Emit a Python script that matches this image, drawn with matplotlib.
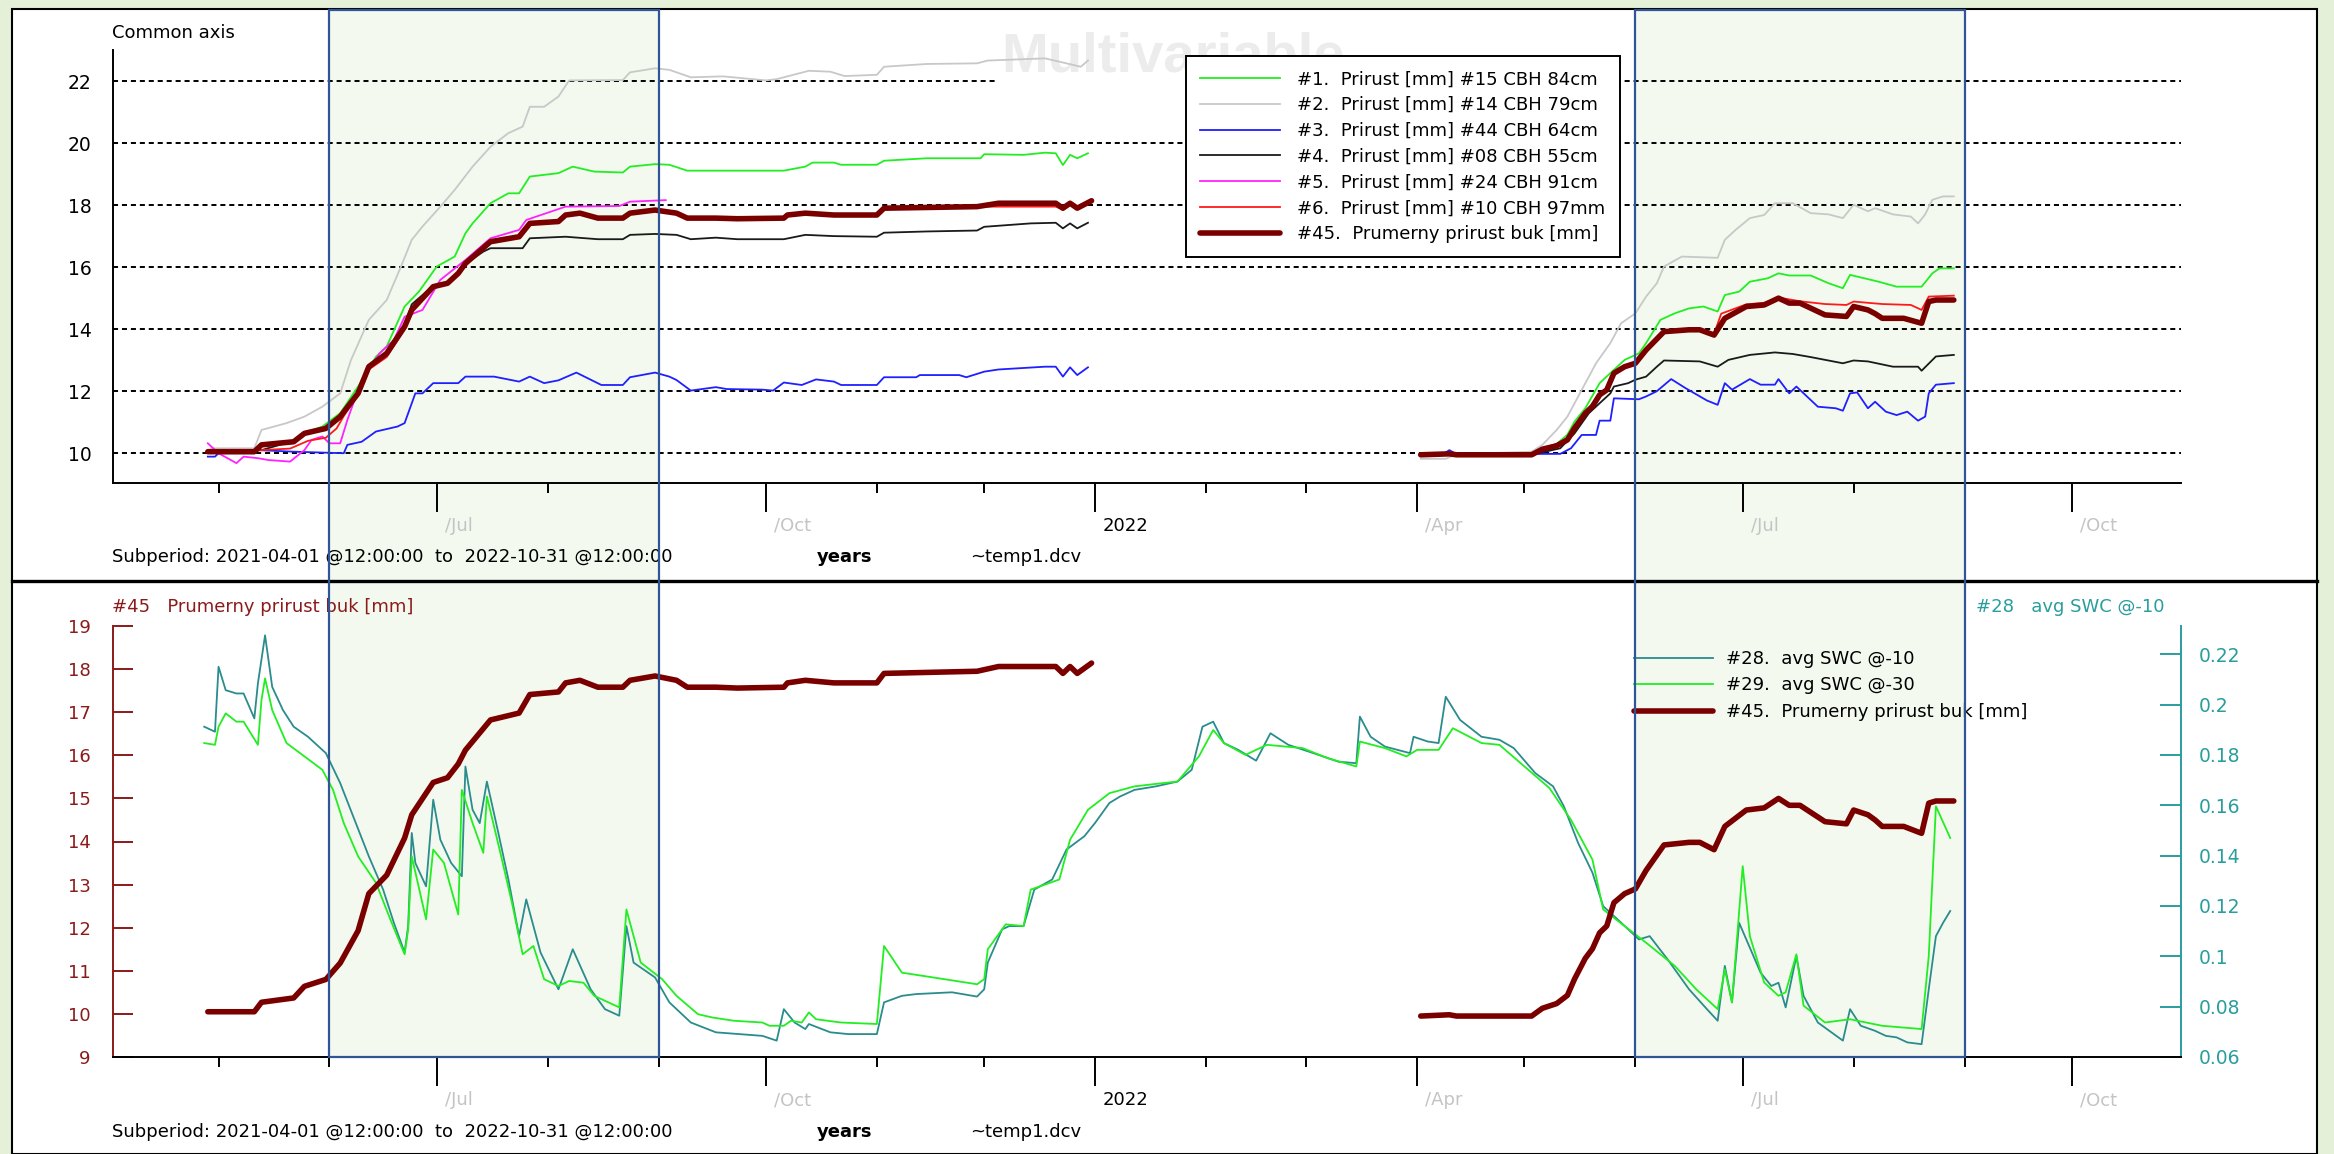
import numpy as np
import matplotlib
matplotlib.use('Agg')
import matplotlib.pyplot as plt
from matplotlib.patches import Rectangle
from matplotlib.lines import Line2D
import matplotlib.transforms as mtransforms

plt.rcParams['font.family'] = ['DejaVu Sans']

W, H = 2334, 1154
START = np.datetime64('2021-04-01')
END_DAY = 578.5  # 2022-10-31 @12:00

# ---------------- data (x = days since 2021-04-01) ----------------
# #45 Prumerny prirust buk [mm]
br21_d = [27, 40, 42, 51, 54, 60, 64, 69, 72, 77, 82, 84, 90, 94, 97, 99, 106, 114, 117, 125, 127, 131, 136, 143,
          145, 152, 158, 161, 169, 175, 188, 189, 194, 202, 214, 216, 242, 248, 264, 266, 268, 270, 274]
br21_v = [10.05, 10.05, 10.27, 10.37, 10.64, 10.8, 11.18, 11.93, 12.79, 13.22, 14.08, 14.62, 15.37, 15.48, 15.8,
          16.12, 16.82, 16.98, 17.41, 17.47, 17.68, 17.74, 17.58, 17.58, 17.74, 17.84, 17.74, 17.58, 17.58, 17.56,
          17.58, 17.68, 17.74, 17.68, 17.68, 17.9, 17.95, 18.06, 18.06, 17.9, 18.06, 17.9, 18.14]
br22_d = [366, 374, 376, 397, 400, 404, 407, 409, 412, 414, 416, 418, 420, 423, 426, 429, 434, 441, 444, 448, 451,
          457, 462, 466, 469, 472, 479, 485, 487, 491, 493, 495, 501, 506, 508, 510, 515]
br22_v = [9.95, 9.98, 9.95, 9.95, 10.13, 10.24, 10.43, 10.81, 11.29, 11.51, 11.88, 12.04, 12.58, 12.79, 12.9, 13.33,
          13.92, 13.98, 13.98, 13.81, 14.35, 14.73, 14.78, 15.0, 14.84, 14.84, 14.46, 14.41, 14.73, 14.62, 14.5,
          14.35, 14.35, 14.19, 14.89, 14.94, 14.94]

# #1 Prirust #15 CBH 84cm
g21_d = [27, 40, 42, 51, 54, 59, 64, 69, 74, 77, 82, 86, 91, 96, 99, 101, 106, 111, 114, 117, 125, 129, 135, 143,
         145, 152, 156, 161, 188, 194, 196, 202, 204, 214, 216, 228, 243, 244, 255, 261, 264, 266, 268, 270, 273]
g21_v = [10.05, 10.05, 10.25, 10.35, 10.65, 10.86, 11.29, 12.15, 13.11, 13.44, 14.73, 15.21, 16.02, 16.34, 17.09,
         17.41, 18.06, 18.38, 18.38, 18.92, 19.03, 19.24, 19.08, 19.05, 19.24, 19.32, 19.3, 19.11, 19.11, 19.24,
         19.37, 19.37, 19.3, 19.3, 19.43, 19.51, 19.51, 19.64, 19.62, 19.69, 19.67, 19.29, 19.62, 19.51, 19.67]
g22_d = [366, 397, 400, 404, 407, 409, 412, 416, 420, 423, 427, 429, 433, 437, 441, 445, 449, 451, 455, 458, 463,
         466, 469, 475, 480, 484, 486, 490, 494, 499, 506, 509, 511, 515]
g22_v = [9.98, 9.98, 10.15, 10.3, 10.6, 11.02, 11.45, 12.26, 12.69, 13.01, 13.22, 13.55, 14.3, 14.51, 14.67, 14.73,
         14.57, 15.1, 15.21, 15.53, 15.64, 15.8, 15.73, 15.73, 15.48, 15.32, 15.75, 15.64, 15.53, 15.37, 15.37,
         15.8, 15.96, 15.96]

# #2 Prirust #14 CBH 79cm
gr21_d = [28, 40, 42, 49, 54, 59, 64, 67, 72, 77, 81, 84, 87, 92, 96, 101, 106, 111, 115, 117, 121, 125, 128, 143,
          145, 152, 156, 162, 171, 183, 186, 195, 201, 205, 214, 216, 228, 242, 245, 261, 267, 271, 273]
gr21_v = [10.16, 10.16, 10.75, 10.97, 11.18, 11.5, 11.93, 13.0, 14.3, 14.94, 16.02, 16.88, 17.31, 17.95, 18.49,
          19.24, 19.88, 20.32, 20.53, 21.17, 21.17, 21.5, 22.02, 22.03, 22.28, 22.41, 22.36, 22.12, 22.15, 22.02,
          22.06, 22.33, 22.3, 22.16, 22.2, 22.46, 22.55, 22.57, 22.66, 22.73, 22.57, 22.46, 22.66]
gr22_d = [366, 373, 376, 397, 400, 404, 407, 411, 415, 419, 422, 426, 429, 432, 434, 439, 449, 451, 454, 458, 462,
          465, 470, 475, 480, 484, 487, 491, 493, 498, 503, 505, 507, 509, 512, 515]
gr22_v = [9.82, 9.82, 9.97, 10.05, 10.27, 10.75, 11.18, 12.04, 12.9, 13.55, 14.19, 14.51, 15.05, 15.48, 16.02,
          16.34, 16.3, 16.88, 17.2, 17.58, 17.68, 18.06, 18.06, 17.74, 17.7, 17.58, 18.01, 17.8, 17.9, 17.7, 17.63,
          17.41, 17.7, 18.17, 18.28, 18.28]

# #3 Prirust #44 CBH 64cm
b21_d = [27, 29, 30, 40, 41, 51, 65, 66, 70, 74, 80, 82, 85, 87, 90, 97, 99, 107, 114, 117, 121, 125, 130, 137, 143,
         145, 152, 156, 158, 162, 169, 172, 182, 185, 188, 193, 197, 202, 204, 214, 216, 225, 226, 237, 239, 244,
         248, 261, 264, 266, 268, 270, 273]
b21_v = [9.89, 9.89, 10.0, 10.0, 10.1, 10.05, 10.0, 10.27, 10.37, 10.7, 10.86, 10.97, 11.93, 11.93, 12.26, 12.26,
         12.47, 12.47, 12.31, 12.47, 12.26, 12.35, 12.6, 12.2, 12.2, 12.45, 12.6, 12.47, 12.36, 12.02, 12.13, 12.07,
         12.05, 12.02, 12.28, 12.2, 12.38, 12.31, 12.2, 12.2, 12.45, 12.45, 12.52, 12.52, 12.45, 12.63, 12.7, 12.79,
         12.79, 12.47, 12.77, 12.52, 12.77]
b22_d = [366, 372, 374, 376, 405, 408, 411, 415, 416, 419, 420, 427, 429, 432, 436, 440, 446, 449, 451, 453, 458,
         461, 465, 466, 469, 471, 477, 482, 484, 486, 488, 491, 493, 496, 499, 502, 505, 507, 508, 510, 515]
b22_v = [9.95, 9.95, 10.1, 9.97, 9.98, 10.16, 10.59, 10.59, 11.05, 11.05, 11.77, 11.74, 11.83, 12.0, 12.39, 12.1,
         11.7, 11.56, 12.26, 12.05, 12.39, 12.21, 12.21, 12.39, 11.93, 12.15, 11.5, 11.45, 11.37, 11.93, 11.96,
         11.45, 11.66, 11.34, 11.23, 11.34, 11.05, 11.18, 11.93, 12.21, 12.26]

# #4 Prirust #08 CBH 55cm
k21_d = [27, 42, 51, 54, 60, 64, 69, 72, 77, 82, 84, 90, 94, 97, 99, 104, 106, 115, 117, 127, 136, 143, 145, 152,
         158, 162, 169, 175, 188, 194, 202, 214, 216, 228, 242, 244, 257, 264, 266, 268, 270, 273]
k21_v = [10.05, 10.1, 10.4, 10.65, 10.75, 11.2, 11.9, 12.75, 13.2, 14.1, 14.8, 15.4, 15.45, 15.8, 16.1, 16.5,
         16.61, 16.61, 16.93, 16.98, 16.9, 16.9, 17.04, 17.07, 17.04, 16.9, 16.95, 16.9, 16.9, 17.04, 17.0, 16.98,
         17.11, 17.15, 17.18, 17.3, 17.41, 17.43, 17.25, 17.41, 17.25, 17.43]
k22_d = [366, 397, 405, 409, 413, 416, 419, 420, 424, 426, 429, 432, 434, 444, 449, 452, 458, 465, 470, 475, 484,
         487, 491, 498, 505, 506, 510, 515]
k22_v = [9.95, 9.95, 10.16, 10.64, 11.29, 11.61, 11.93, 12.15, 12.26, 12.37, 12.47, 12.79, 12.99, 12.96, 12.79,
         13.01, 13.17, 13.25, 13.2, 13.1, 12.9, 12.99, 12.96, 12.79, 12.79, 12.66, 13.12, 13.17]

# #5 Prirust #24 CBH 91cm
m21_d = [27, 30, 35, 37, 41, 44, 50, 54, 56, 59, 61, 64, 66, 70, 75, 79, 82, 87, 92, 99, 106, 114, 116, 127, 142,
         145, 155]
m21_v = [10.32, 10.0, 9.68, 9.89, 9.84, 9.78, 9.73, 10.1, 10.43, 10.54, 10.32, 10.32, 11.07, 12.36, 13.22, 13.65,
         14.4, 14.62, 15.59, 16.23, 16.93, 17.2, 17.52, 17.95, 17.97, 18.11, 18.16]

# #6 Prirust #10 CBH 97mm
r21_d = [27, 42, 50, 55, 60, 63, 65, 69, 72, 77, 82, 84, 90, 94, 97, 99, 105, 114, 117, 125, 127, 131, 136, 143,
         145, 152, 158, 161, 169, 175, 188, 190, 194, 202, 214, 216, 242, 248, 264, 266, 268, 270, 274]
r21_v = [10.05, 10.1, 10.15, 10.4, 10.5, 10.8, 11.2, 11.9, 12.7, 13.1, 14.0, 14.6, 15.35, 15.5, 15.8, 16.1, 16.8,
         17.0, 17.4, 17.45, 17.7, 17.75, 17.6, 17.6, 17.75, 17.85, 17.75, 17.6, 17.55, 17.6, 17.6, 17.7, 17.75,
         17.7, 17.7, 17.9, 17.95, 17.95, 17.95, 17.85, 18.0, 17.9, 18.1]
r22_d = [366, 397, 400, 404, 407, 409, 412, 416, 418, 420, 423, 426, 429, 434, 441, 444, 448, 450, 457, 462, 466,
         472, 479, 485, 487, 495, 503, 506, 508, 515]
r22_v = [9.95, 9.95, 10.15, 10.3, 10.5, 10.85, 11.3, 11.9, 12.1, 12.6, 12.8, 12.9, 13.35, 13.95, 14.0, 14.0, 13.85,
         14.5, 14.8, 14.85, 15.02, 14.9, 14.81, 14.78, 14.89, 14.81, 14.78, 14.62, 15.05, 15.08]

# #28 avg SWC @-10
sw10_d = [26, 29, 30, 32, 35, 37, 40, 41, 43, 45, 48, 51, 55, 60, 64, 68, 72, 76, 79, 82, 83, 84, 85, 88, 90, 92,
          95, 98, 99, 101, 103, 105, 108, 111, 114, 116, 120, 125, 129, 134, 138, 142, 144, 146, 152, 156, 162, 169,
          182, 186, 188, 191, 194, 195, 201, 206, 214, 216, 221, 225, 235, 242, 244, 245, 249, 251, 255, 258, 263,
          267, 272, 275, 279, 282, 286, 292, 298, 302, 305, 308, 311, 315, 320, 324, 329, 336, 343, 348, 349, 352,
          356, 363, 364, 368, 371, 373, 377, 383, 388, 392, 398, 403, 406, 410, 414, 417, 421, 427, 430, 435, 441,
          446, 449, 451, 453, 455, 457, 461, 464, 466, 468, 471, 473, 477, 484, 486, 489, 493, 496, 499, 502, 506,
          508, 510, 512, 514]
sw10_v = [0.1912, 0.1892, 0.215, 0.2057, 0.2044, 0.2044, 0.1945, 0.2084, 0.2275, 0.207, 0.1978, 0.1912, 0.1872,
          0.1807, 0.1688, 0.1542, 0.1397, 0.1265, 0.1133, 0.1015, 0.112, 0.149, 0.1371, 0.1278, 0.1622, 0.1463,
          0.1371, 0.1318, 0.1754, 0.1582, 0.1529, 0.1694, 0.1503, 0.1306, 0.108, 0.1226, 0.1015, 0.0869, 0.1028,
          0.0869, 0.079, 0.0764, 0.112, 0.0975, 0.0916, 0.0817, 0.0737, 0.0698, 0.0684, 0.0665, 0.079, 0.0737,
          0.0711, 0.0731, 0.0698, 0.0691, 0.0691, 0.0817, 0.0843, 0.085, 0.0857, 0.084, 0.0869, 0.0975, 0.1107,
          0.112, 0.112, 0.1265, 0.1305, 0.1424, 0.1477, 0.153, 0.1609, 0.1635, 0.1661, 0.1675, 0.1694, 0.1741,
          0.1912, 0.1932, 0.1847, 0.182, 0.1777, 0.1886, 0.184, 0.1807, 0.1773, 0.1767, 0.1952, 0.1872, 0.1833,
          0.1807, 0.1872, 0.1853, 0.1847, 0.2031, 0.1939, 0.1872, 0.186, 0.1827, 0.1728, 0.1675, 0.1596, 0.145,
          0.1332, 0.1199, 0.1147, 0.1067, 0.108, 0.0988, 0.0869, 0.079, 0.0744, 0.0962, 0.0817, 0.1133, 0.1067,
          0.0935, 0.0882, 0.0895, 0.0797, 0.1001, 0.0843, 0.0737, 0.0665, 0.079, 0.0724, 0.0704, 0.0684, 0.0678,
          0.0658, 0.0651, 0.0869, 0.108, 0.1133, 0.118]

# #29 avg SWC @-30
sw30_d = [26, 29, 30, 32, 35, 37, 41, 42, 43, 45, 49, 54, 59, 62, 65, 69, 74, 78, 82, 83, 84, 88, 90, 93, 97, 98,
          101, 104, 105, 109, 112, 115, 118, 121, 125, 128, 132, 135, 142, 144, 148, 154, 158, 164, 168, 174, 182,
          184, 188, 190, 193, 195, 197, 204, 214, 216, 221, 227, 242, 244, 245, 250, 255, 257, 265, 268, 273, 279,
          286, 294, 298, 304, 308, 311, 317, 323, 333, 340, 348, 349, 356, 362, 365, 371, 375, 383, 388, 395, 402,
          408, 414, 417, 423, 429, 437, 443, 449, 451, 453, 456, 458, 462, 466, 468, 471, 473, 479, 486, 495, 506,
          508, 510, 514]
sw30_v = [0.1847, 0.184, 0.1912, 0.1965, 0.1932, 0.1932, 0.184, 0.2018, 0.2104, 0.1978, 0.1847, 0.1794, 0.1741,
          0.1661, 0.1529, 0.1397, 0.1292, 0.1147, 0.1008, 0.1107, 0.1397, 0.1147, 0.1424, 0.1371, 0.1166, 0.1661,
          0.1529, 0.1411, 0.1635, 0.1397, 0.1213, 0.1008, 0.1041, 0.0909, 0.0882, 0.0902, 0.0895, 0.0843, 0.0797,
          0.1186, 0.0975, 0.0909, 0.0843, 0.077, 0.0757, 0.0744, 0.0737, 0.0724, 0.0724, 0.0744, 0.0737, 0.0777,
          0.075, 0.0737, 0.0731, 0.1041, 0.0935, 0.0922, 0.0889, 0.0909, 0.1028, 0.1127, 0.112, 0.1265, 0.1305,
          0.1463, 0.1582, 0.1648, 0.1675, 0.1688, 0.1694, 0.1794, 0.1899, 0.1847, 0.18, 0.184, 0.1827, 0.1787,
          0.1754, 0.1853, 0.1827, 0.1794, 0.182, 0.182, 0.1906, 0.1847, 0.184, 0.1754, 0.1668, 0.1542, 0.1384,
          0.1186, 0.112, 0.1054, 0.0962, 0.0869, 0.079, 0.0948, 0.0817, 0.1358, 0.108, 0.0896, 0.0843, 0.0857,
          0.1008, 0.0804, 0.0737, 0.075, 0.0724, 0.0711, 0.1001, 0.1596, 0.147]

top_labels = ['#1.  Prirust [mm] #15 CBH 84cm', '#2.  Prirust [mm] #14 CBH 79cm', '#3.  Prirust [mm] #44 CBH 64cm',
              '#4.  Prirust [mm] #08 CBH 55cm', '#5.  Prirust [mm] #24 CBH 91cm', '#6.  Prirust [mm] #10 CBH 97mm',
              '#45.  Prumerny prirust buk [mm]']
bot_labels = ['#28.  avg SWC @-10', '#29.  avg SWC @-30', '#45.  Prumerny prirust buk [mm]']
shade_periods = [('2021-06-01', '2021-09-01'), ('2022-06-01', '2022-09-01')]

# colours
C_GREEN = '#22ee22'
C_GRAY = '#c8c8c8'
C_BLUE = '#1f1fff'
C_BLACK = '#1a1a1a'
C_MAG = '#ff22ff'
C_RED = '#ff1a1a'
C_BROWN = '#7a0000'
C_TEAL = '#2a8c8c'
C_DRED = '#8b1a1a'
C_TEALTXT = '#2a9d9d'
BG = '#e4f1d8'


def day(s):
    return int((np.datetime64(s) - START).astype(int))


def fx(px):
    return px / W


def fy(py):
    return 1 - py / H


fig = plt.figure(figsize=(W / 100, H / 100), dpi=100, facecolor=BG)

# white panel + separator
fig.add_artist(Rectangle((fx(12), 0), fx(2317 - 12), fy(9), transform=fig.transFigure,
                         facecolor='white', edgecolor='black', lw=1.5, zorder=-3))
fig.add_artist(Line2D([fx(12), fx(2317)], [fy(581), fy(581)], transform=fig.transFigure,
                      color='black', lw=2.4, zorder=4))

# month ticks
months = np.arange(np.datetime64('2021-05'), np.datetime64('2022-11'), dtype='datetime64[M]')
mdays = (months.astype('datetime64[D]') - START).astype(int)
mnum = months.astype(int) % 12 + 1
major_d = [d for d, m in zip(mdays, mnum) if m in (1, 4, 7, 10)]
major_lab = []
for d, m in zip(mdays, mnum):
    if m in (1, 4, 7, 10):
        major_lab.append({1: '2022', 4: '/Apr', 7: '/Jul', 10: '/Oct'}[m])
minor_d = [d for d, m in zip(mdays, mnum) if m not in (1, 4, 7, 10)]

lab_shift = mtransforms.ScaledTranslation(8 / 100, 0, fig.dpi_scale_trans)


def time_axis(ax):
    ax.set_xlim(0.5, END_DAY)
    ax.set_xticks(major_d)
    ax.set_xticklabels(major_lab)
    ax.set_xticks(minor_d, minor=True)
    ax.tick_params(axis='x', which='major', direction='out', length=21, width=1.4, pad=3.5, labelsize=13)
    ax.tick_params(axis='x', which='minor', direction='out', length=7, width=1.4)
    for lab in ax.get_xticklabels():
        lab.set_ha('left')
        lab.set_transform(lab.get_transform() + lab_shift)
        lab.set_color('black' if lab.get_text() == '2022' else '#c4c4c4')
    ax.spines['bottom'].set_linewidth(1.4)
    ax.spines['top'].set_visible(False)


# ---------------- top panel ----------------
ax1 = fig.add_axes([fx(113), fy(482.7), fx(2181 - 113), (482.7 - 50) / H])
ax1.set_facecolor('none')
ax1.set_ylim(9.05, 23.0)
time_axis(ax1)
ax1.spines['right'].set_visible(False)
ax1.spines['left'].set_linewidth(1.4)
ax1.set_yticks(np.arange(10, 23, 2))
ax1.tick_params(axis='y', length=0, pad=15.5, labelsize=13.5)
for v in np.arange(10, 23, 2):
    ax1.axhline(v, color='black', lw=1.4, ls=(0, (2.6, 2.0)), zorder=1)

ax1.text(fx(1001), fy(72), 'Multivariable', transform=fig.transFigure, family='Liberation Sans',
         weight='bold', fontsize=40.5, color='#ececec', va='baseline', ha='left', zorder=1.5,
         bbox=dict(boxstyle='square,pad=0.1', facecolor='white', edgecolor='none'))

lw_thin = 1.3
series_top = [(g21_d, g21_v, g22_d, g22_v, C_GREEN), (gr21_d, gr21_v, gr22_d, gr22_v, C_GRAY),
              (b21_d, b21_v, b22_d, b22_v, C_BLUE), (k21_d, k21_v, k22_d, k22_v, C_BLACK),
              (m21_d, m21_v, None, None, C_MAG), (r21_d, r21_v, r22_d, r22_v, C_RED)]
handles_top = []
for (d1, v1, d2, v2, c), lab in zip(series_top, top_labels):
    h, = ax1.plot(d1, v1, color=c, lw=lw_thin, label=lab, zorder=2)
    if d2 is not None:
        ax1.plot(d2, v2, color=c, lw=lw_thin, zorder=2)
    handles_top.append(h)
h, = ax1.plot(br21_d, br21_v, color=C_BROWN, lw=4.0, label=top_labels[-1], zorder=3,
              solid_capstyle='round', solid_joinstyle='round')
ax1.plot(br22_d, br22_v, color=C_BROWN, lw=4.0, zorder=3, solid_capstyle='round', solid_joinstyle='round')
handles_top.append(h)

leg1 = ax1.legend(handles=handles_top, loc='upper left', bbox_to_anchor=(fx(1186), fy(56)),
                  bbox_transform=fig.transFigure, borderaxespad=0, fontsize=13, handlelength=4.4,
                  handletextpad=0.95, borderpad=0.8, labelspacing=0.43, fancybox=False,
                  framealpha=1, edgecolor='black', facecolor='white')
leg1.get_frame().set_linewidth(1.4)
leg1.set_zorder(5)

fig.text(fx(112), fy(33), 'Common axis', fontsize=13, va='center', ha='left')

# ---------------- bottom panel ----------------
ax2 = fig.add_axes([fx(113), fy(1057), fx(2181 - 113), (1057 - 626) / H])
ax3 = ax2.twinx()
ax2.set_zorder(ax3.get_zorder() + 1)
ax2.set_facecolor('none')
ax3.set_facecolor('none')
time_axis(ax2)
ax3.spines['top'].set_visible(False)
ax3.spines['bottom'].set_visible(False)
ax3.spines['left'].set_visible(False)
ax2.spines['right'].set_visible(False)

ax2.set_ylim(9, 19)
ax2.set_yticks(np.arange(9, 20, 1))
ax2.spines['left'].set_color(C_DRED)
ax2.spines['left'].set_linewidth(1.4)
ax2.tick_params(axis='y', direction='in', length=14.4, width=1.4, color=C_DRED, labelcolor=C_DRED,
                pad=16, labelsize=13)

ax3.set_ylim(0.06, 0.2312)
ax3.set_yticks(np.arange(0.06, 0.2201, 0.02))
ax3.set_yticklabels(['%g' % round(v, 2) for v in np.arange(0.06, 0.2201, 0.02)])
ax3.spines['right'].set_color(C_TEALTXT)
ax3.spines['right'].set_linewidth(1.4)
ax3.tick_params(axis='y', direction='in', length=15, width=1.4, color=C_TEALTXT, labelcolor=C_TEALTXT,
                pad=13, labelsize=13.5)

h28, = ax3.plot(sw10_d, sw10_v, color=C_TEAL, lw=lw_thin)
h29, = ax3.plot(sw30_d, sw30_v, color=C_GREEN, lw=lw_thin)
h45, = ax2.plot(br21_d, br21_v, color=C_BROWN, lw=4.0, solid_capstyle='round', solid_joinstyle='round')
ax2.plot(br22_d, br22_v, color=C_BROWN, lw=4.0, solid_capstyle='round', solid_joinstyle='round')

leg2 = fig.legend([h28, h29, h45], bot_labels, loc='upper left', bbox_to_anchor=(fx(1621), fy(637)),
                  bbox_transform=fig.transFigure, borderaxespad=0, fontsize=13, handlelength=4.4,
                  handletextpad=0.7, borderpad=0.72, labelspacing=0.47, fancybox=False,
                  framealpha=0, edgecolor='black')
leg2.get_frame().set_facecolor('none')
leg2.get_frame().set_edgecolor('black')
leg2.get_frame().set_linewidth(1.4)
leg2.set_zorder(5)

fig.text(fx(112), fy(607), '#45   Prumerny prirust buk [mm]', color=C_DRED, fontsize=13, va='center')
fig.text(fx(1976), fy(607), '#28   avg SWC @-10', color=C_TEALTXT, fontsize=13, va='center')

# subperiod lines
for yy in (557, 1132):
    fig.text(fx(112), fy(yy), 'Subperiod: 2021-04-01 @12:00:00  to  2022-10-31 @12:00:00', fontsize=13,
             va='center')
    fig.text(fx(817), fy(yy), 'years', fontsize=13, weight='bold', va='center')
    fig.text(fx(970), fy(yy), '~temp1.dcv', fontsize=13, va='center')

# shaded periods spanning both panels
blend = mtransforms.blended_transform_factory(ax1.transData, fig.transFigure)
for a, b in shade_periods:
    x0, x1 = day(a), day(b)
    fig.add_artist(Rectangle((x0, fy(1057)), x1 - x0, fy(10) - fy(1057), transform=blend,
                             facecolor='#f3f9ef', edgecolor='none', zorder=-1))
    fig.add_artist(Rectangle((x0, fy(1057)), x1 - x0, fy(10) - fy(1057), transform=blend,
                             facecolor='none', edgecolor='#2f5597', lw=1.6, zorder=6))

fig.savefig('out.png', dpi=100, facecolor=BG)
